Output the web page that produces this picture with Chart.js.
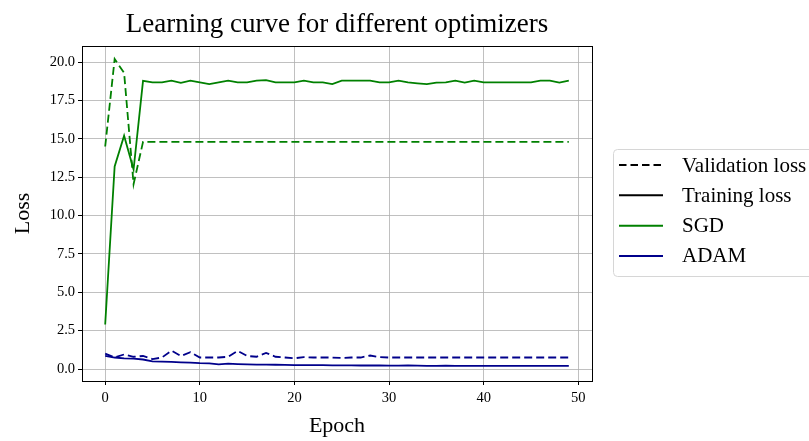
<!DOCTYPE html>
<html>
<head>
<meta charset="utf-8">
<script src="https://cdn.jsdelivr.net/npm/chart.js@4.4.1/dist/chart.umd.min.js"></script>
<style>
    html, body { margin: 0; padding: 0; background: #fff; overflow: hidden; }
    #wrap { width: 809px; height: 441px; }
</style>
</head>
<body>
<div id="wrap"><canvas id="lossChart" width="809" height="441"></canvas></div>
<script>
// values
let epochs = [0, 1, 2, 3, 4, 5, 6, 7, 8, 9, 10, 11, 12, 13, 14, 15, 16, 17, 18, 19,
    20, 21, 22, 23, 24, 25, 26, 27, 28, 29, 30, 31, 32, 33, 34, 35, 36, 37, 38, 39,
    40, 41, 42, 43, 44, 45, 46, 47, 48, 49];

let sgd_val = [14.5, 20.2, 19.3, 12.05, 14.8, 14.8, 14.8, 14.8, 14.8, 14.8,
    14.8, 14.8, 14.8, 14.8, 14.8, 14.8, 14.8, 14.8, 14.8, 14.8,
    14.8, 14.8, 14.8, 14.8, 14.8, 14.8, 14.8, 14.8, 14.8, 14.8,
    14.8, 14.8, 14.8, 14.8, 14.8, 14.8, 14.8, 14.8, 14.8, 14.8,
    14.8, 14.8, 14.8, 14.8, 14.8, 14.8, 14.8, 14.8, 14.8, 14.8];

let sgd_train = [2.9, 13.2, 15.2, 13.0, 18.78, 18.68, 18.68, 18.79, 18.65, 18.79,
    18.68, 18.57, 18.68, 18.79, 18.68, 18.68, 18.79, 18.83, 18.68, 18.68,
    18.68, 18.79, 18.68, 18.68, 18.57, 18.79, 18.79, 18.79, 18.79, 18.68,
    18.68, 18.79, 18.68, 18.62, 18.57, 18.66, 18.68, 18.79, 18.66, 18.79,
    18.68, 18.68, 18.68, 18.68, 18.68, 18.68, 18.79, 18.79, 18.66, 18.79];

let adam_val = [1.0, 0.75, 0.95, 0.8, 0.85, 0.65, 0.75, 1.2, 0.85, 1.1,
    0.75, 0.75, 0.75, 0.8, 1.18, 0.85, 0.8, 1.05, 0.8, 0.75,
    0.7, 0.78, 0.75, 0.75, 0.75, 0.72, 0.75, 0.75, 0.88, 0.78,
    0.75, 0.75, 0.75, 0.75, 0.75, 0.75, 0.75, 0.75, 0.75, 0.75,
    0.75, 0.75, 0.75, 0.75, 0.75, 0.75, 0.75, 0.75, 0.75, 0.75];

let adam_train = [0.85, 0.75, 0.7, 0.68, 0.62, 0.5, 0.48, 0.46, 0.44, 0.42,
    0.38, 0.37, 0.3, 0.35, 0.32, 0.3, 0.29, 0.29, 0.28, 0.27,
    0.25, 0.26, 0.25, 0.25, 0.24, 0.24, 0.24, 0.23, 0.23, 0.23,
    0.22, 0.22, 0.23, 0.22, 0.21, 0.21, 0.22, 0.21, 0.21, 0.21,
    0.21, 0.2, 0.21, 0.21, 0.2, 0.2, 0.2, 0.2, 0.2, 0.2];

let x_ticks = [0, 10, 20, 30, 40, 50];
let y_ticks = [0, 2.5, 5, 7.5, 10, 12.5, 15, 17.5, 20];

let legend_names = ['Validation loss', 'Training loss', 'SGD', 'ADAM'];
let legend_colors = ['#000000', '#000000', '#008000', '#00008b'];
let legend_dashes = [[7.5, 4], [], [], []];

const SGD_COLOR = '#008000';
const ADAM_COLOR = '#00008b';
const GRID = '#b0b0b0';
const FONT = "'Liberation Serif', 'Times New Roman', serif";

Chart.defaults.font.family = FONT;
Chart.defaults.color = '#000';

function to_points(ys) {
    return ys.map((y, i) => ({ x: epochs[i], y: y }));
}

const plot_frame = {
    id: 'plotFrame',
    afterDatasetsDraw(chart) {
        let a = chart.chartArea;
        let ctx = chart.ctx;
        ctx.save();
        ctx.strokeStyle = '#000';
        ctx.lineWidth = 1;
        ctx.strokeRect(Math.round(a.left) + 0.5, Math.round(a.top) + 0.5,
            Math.round(a.right - a.left), Math.round(a.bottom - a.top));
        ctx.restore();
    }
};

// legend sits outside the axes on the right, box runs off the canvas edge
const side_legend = {
    id: 'sideLegend',
    afterDraw(chart) {
        let a = chart.chartArea;
        let ctx = chart.ctx;
        let mid = (a.top + a.bottom) / 2 - 3;
        let row_h = 30.3;
        let rows = legend_names.map((_, i) => mid + (i - (legend_names.length - 1) / 2) * row_h);
        let box_x = a.right + 21;
        ctx.save();
        ctx.strokeStyle = '#d6d6d6';
        ctx.lineWidth = 1;
        ctx.beginPath();
        ctx.roundRect(Math.round(box_x) + 0.5, Math.round(rows[0] - 16) + 0.5, 260,
            Math.round(rows[rows.length - 1] - rows[0] + 36), 4);
        ctx.stroke();
        ctx.font = `21px ${FONT}`;
        ctx.textBaseline = 'middle';
        ctx.fillStyle = '#000';
        legend_names.forEach((name, i) => {
            ctx.strokeStyle = legend_colors[i];
            ctx.lineWidth = 2;
            ctx.setLineDash(legend_dashes[i]);
            ctx.beginPath();
            ctx.moveTo(a.right + 27, rows[i]);
            ctx.lineTo(a.right + 71, rows[i]);
            ctx.stroke();
            ctx.fillText(name, a.right + 90, rows[i] + 1);
        });
        ctx.restore();
    }
};

let ctx = document.getElementById('lossChart');
let chart = new Chart(ctx, {
    type: 'line',
    data: {
        datasets: [
            {
                label: 'SGD validation',
                data: to_points(sgd_val),
                borderColor: SGD_COLOR,
                borderWidth: 1.8,
                borderDash: [8, 4],
                pointRadius: 0,
                fill: false,
                tension: 0
            },
            {
                label: 'SGD training',
                data: to_points(sgd_train),
                borderColor: SGD_COLOR,
                borderWidth: 1.8,
                pointRadius: 0,
                fill: false,
                tension: 0
            },
            {
                label: 'ADAM validation',
                data: to_points(adam_val),
                borderColor: ADAM_COLOR,
                borderWidth: 1.8,
                borderDash: [8, 4],
                pointRadius: 0,
                fill: false,
                tension: 0
            },
            {
                label: 'ADAM training',
                data: to_points(adam_train),
                borderColor: ADAM_COLOR,
                borderWidth: 1.8,
                pointRadius: 0,
                fill: false,
                tension: 0
            }
        ]
    },
    options: {
        responsive: false,
        animation: false,
        layout: { padding: { left: 0, right: 217, top: 0, bottom: 0 } },
        scales: {
            x: {
                type: 'linear',
                min: -2.45,
                max: 51.45,
                afterBuildTicks: (s) => { s.ticks = x_ticks.map(v => ({ value: v })); },
                afterFit: (s) => { s.height = 60; },
                ticks: { font: { size: 14.5 }, color: '#000', padding: 4, maxRotation: 0 },
                grid: { color: GRID, lineWidth: 0.8, tickColor: '#000', tickLength: 4, tickWidth: 1 },
                border: { display: false },
                title: {
                    display: true,
                    text: 'Epoch',
                    font: { size: 22 },
                    color: '#000',
                    padding: { top: 0, bottom: 2 }
                }
            },
            y: {
                min: -0.78,
                max: 21.05,
                afterBuildTicks: (s) => { s.ticks = y_ticks.map(v => ({ value: v })); },
                afterFit: (s) => { s.width = 82; },
                ticks: {
                    font: { size: 14.5 },
                    color: '#000',
                    padding: 3,
                    callback: (v) => Number(v).toFixed(1)
                },
                grid: { color: GRID, lineWidth: 0.8, tickColor: '#000', tickLength: 4, tickWidth: 1 },
                border: { display: false },
                title: {
                    display: true,
                    text: 'Loss',
                    font: { size: 22 },
                    color: '#000',
                    padding: { top: 10, bottom: 0 }
                }
            }
        },
        plugins: {
            title: {
                display: true,
                text: 'Learning curve for different optimizers',
                fullSize: false,
                color: '#000',
                font: { size: 27, weight: 'normal' },
                padding: { top: 9, bottom: 4.6 }
            },
            legend: { display: false },
            tooltip: { enabled: false }
        }
    },
    plugins: [plot_frame, side_legend]
});
</script>
</body>
</html>
